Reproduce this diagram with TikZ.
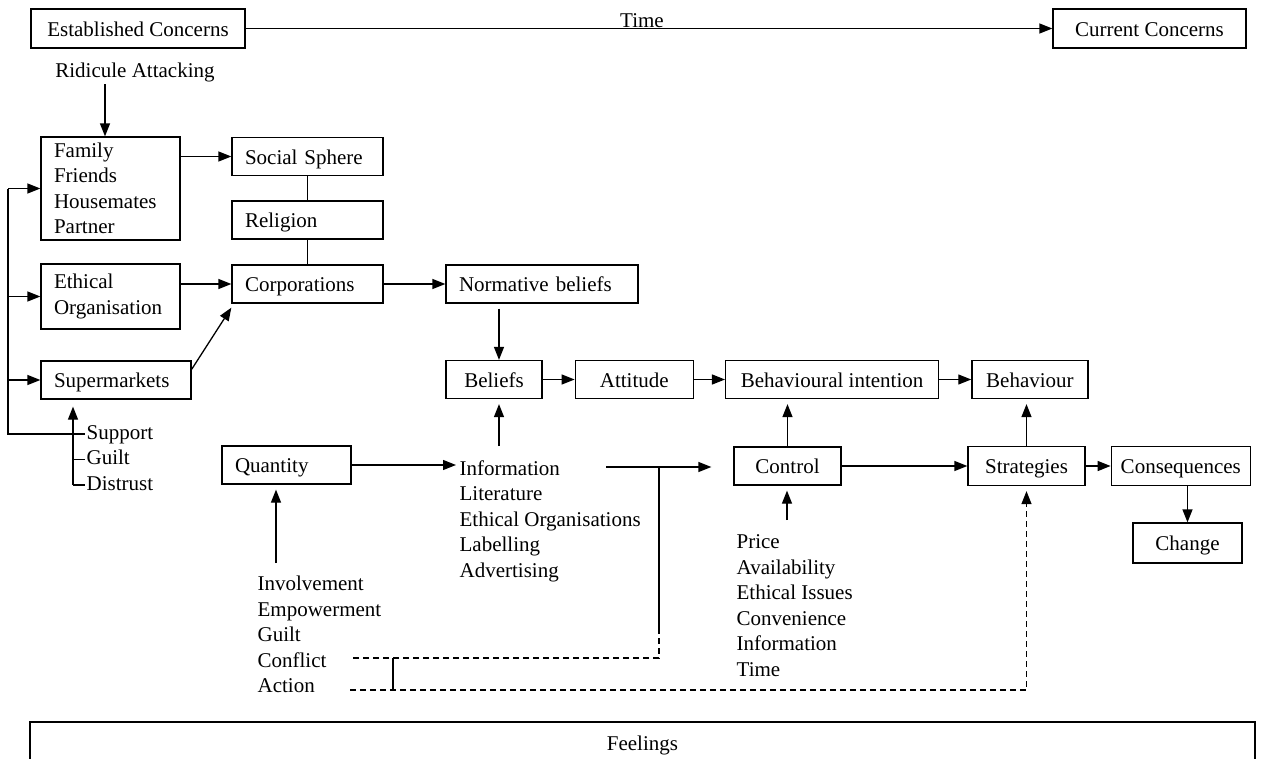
\documentclass[tikz,border=0pt]{standalone}
\usepackage{fontspec}
\setmainfont{Liberation Serif}
\usetikzlibrary{positioning, arrows.meta}

\begin{document}
\begin{tikzpicture}[
    x=1pt, y=-1pt,
    font=\fontsize{21}{25.5}\selectfont,
    line width=1.3pt,
    box/.style={draw, minimum height=38pt, inner sep=0pt, align=center, text height=15pt, text depth=0pt},
    lbox/.style={draw, minimum height=38pt, inner xsep=13pt, inner ysep=0pt, align=left, text height=15pt, text depth=0pt},
    tallbox/.style={draw, inner xsep=13pt, inner ysep=0pt, align=left},
    itemlist/.style={inner sep=0pt, align=left, anchor=north west},
    itemtag/.style={inner sep=1pt, anchor=west, text height=14pt, text depth=4pt},
    arrow/.style={-{Triangle[length=13pt, width=10pt]}},
    tipgap/.style={shorten >=5pt},
    dashline/.style={dash pattern=on 6pt off 4pt}
]
\useasboundingbox (0,0) rectangle (1264,758);

\node[box, minimum width=214pt, minimum height=39pt] (est) at (138,28.5) {Established Concerns};
\node[box, minimum width=193pt, minimum height=39pt] (cur) at (1149.5,28.5) {Current Concerns};
\node[inner sep=2pt, anchor=south] (time) at (642,30) {Time};

\node (rid) at (135,72) {Ridicule Attacking};
\node[tallbox, text width=113pt, minimum height=103pt] (fam) at (110.5,188.5) {Family\\Friends\\Housemates\\Partner};
\node[lbox, text width=125pt] (soc) at (307.5,156.5) {Social Sphere};
\node[lbox, text width=125pt] (rel) at (307.5,220) {Religion};
\node[tallbox, text width=113pt, minimum height=65pt] (eth) at (110.5,296.5) {Ethical\\Organisation};
\node[lbox, text width=125pt] (corp) at (307.5,284) {Corporations};
\node[lbox, text width=124pt] (sup) at (116,380) {Supermarkets};
\node[lbox, text width=166pt] (norm) at (542,284) {Normative beliefs};
\node[lbox, text width=103pt] (qty) at (286.5,465) {Quantity};

\node[itemtag] (spt) at (85,434) {Support};
\node[itemtag] (glt) at (85,459.5) {Guilt};
\node[itemtag] (dst) at (85,485) {Distrust};

\node[box, minimum width=96pt] (bel) at (494,379.5) {Beliefs};
\node[box, minimum width=118pt, right=32pt of bel] (att) {Attitude};
\node[box, minimum width=213pt, right=31pt of att] (bint) {Behavioural intention};
\node[box, minimum width=116pt, right=32pt of bint] (beh) {Behaviour};
\node[box, minimum width=107pt] (ctl) at (787.5,466) {Control};
\node[box, minimum width=117pt, minimum height=39pt] (strat) at (1026.5,466) {Strategies};
\node[box, minimum width=139pt, minimum height=39pt, right=25pt of strat] (cons) {Consequences};
\node[box, minimum width=109pt, minimum height=40pt] (chg) at (1187.5,543) {Change};

\node[itemlist] (info) at (459,459.7) {Information\\Literature\\Ethical Organisations\\Labelling\\Advertising};
\node[itemlist] (inv) at (257,575.7) {Involvement\\Empowerment\\Guilt\\Conflict\\Action};
\node[itemlist] (price) at (736,534.4) {Price\\Availability\\Ethical Issues\\Convenience\\Information\\Time};

\node[draw, minimum width=1225pt, minimum height=46pt] (feel) at (642.5,745) {Feelings};

\coordinate (bus) at (8,434);
\coordinate (stem) at (73,485);
\coordinate (ridx) at (105,84);
\coordinate (belx) at ([xshift=5pt]bel.north);
\coordinate (infotop) at (499,446);
\coordinate (fork) at (606,467);
\coordinate (split) at (659,467);
\coordinate (splitlow) at (659,628);
\coordinate (conf) at (350,658);
\coordinate (act) at (350,690);
\coordinate (brace) at (393,658);
\coordinate (pricetop) at (787,520);
\coordinate (invtop) at (276,563);

\draw[arrow] (est) -- (cur);
\draw[arrow] (ridx) -- (ridx |- fam.north);
\draw[arrow] (fam.east |- soc) -- (soc);
\draw (soc) -- (rel);
\draw (rel) -- (corp);
\draw[arrow] (eth.east |- corp) -- (corp);
\draw[arrow] ([yshift=-9pt]sup.north east) -- ([yshift=-4pt]corp.south west);
\draw[arrow] (corp) -- (norm);
\draw[arrow, shorten <=5pt] (belx |- norm.south) -- (belx);
\draw[arrow, tipgap] (infotop) -- (infotop |- bel.south);
\draw[arrow] (bel) -- (att);
\draw[arrow] (att) -- (bint);
\draw[arrow] (bint) -- (beh);

\draw (bus |- fam) -- (bus) -- (spt.west);
\draw[arrow] (bus |- fam) -- (fam);
\draw[arrow] (bus |- eth) -- (eth);
\draw[arrow] (bus |- sup) -- (sup);
\draw[arrow, shorten >=7pt] (stem) -- (stem |- sup.south);
\draw (stem |- glt.west) -- (glt.west);
\draw (stem) -- (dst.west);

\draw[arrow, shorten >=3pt] (qty) -- (qty -| info.west);
\draw[arrow, tipgap] (invtop) -- (invtop |- qty.south);
\draw[arrow, shorten >=22pt] (fork) -- (fork -| ctl.west);
\draw (split) -- (splitlow);
\draw[dashline] (splitlow) -- (splitlow |- conf) -- (conf);
\draw (brace) -- (brace |- act);
\draw[dashline, arrow, tipgap] (act) -- (act -| strat.south) -- (strat.south);

\draw[arrow, tipgap] (ctl) -- (ctl |- bint.south);
\draw[arrow] (ctl) -- (strat);
\draw[arrow, tipgap] (pricetop) -- (pricetop |- ctl.south);
\draw[arrow, tipgap] (strat) -- (strat |- beh.south);
\draw[arrow] (strat) -- (cons);
\draw[arrow] (chg.north |- cons.south) -- (chg);
\end{tikzpicture}
\end{document}
